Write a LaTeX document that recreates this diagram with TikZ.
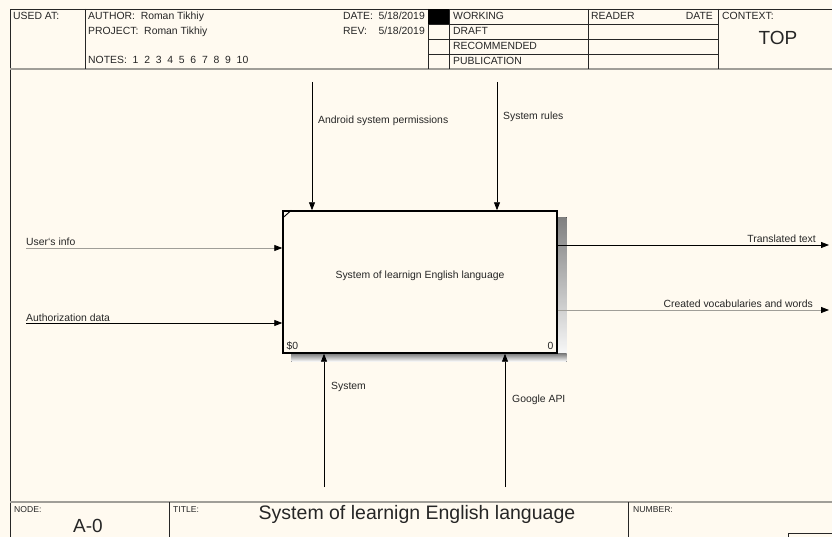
\documentclass[tikz,border=0pt]{standalone}
\usepackage{fontspec}
\setmainfont{Liberation Sans}
\usepackage{tikz}
\usetikzlibrary{ positioning, arrows.meta, calc }
\usepackage{xcolor}
\definecolor{paper}{HTML}{FFFAF0}
\definecolor{ink}{HTML}{262626}
\definecolor{rule}{HTML}{A09E98}
\definecolor{shade}{HTML}{8E8E8E}

\begin{document}
\begin{tikzpicture}[
  x=1pt, y=-1pt,
  every node/.style={font=\fontsize{10.4}{12}\selectfont, inner sep=0pt, text=ink},
  txt/.style={anchor=base west},
  rtxt/.style={anchor=base east},
  tiny/.style={anchor=base west, font=\fontsize{8.6}{10}\selectfont},
  big/.style={font=\fontsize{19}{22}\selectfont},
  func/.style={draw=black, line width=1.4pt, fill=paper,
               minimum width=274pt, minimum height=142pt},
  arc/.style={-{Triangle[length=8pt,width=6pt,black]}, draw=black, line width=0.8pt},
  arcgray/.style={arc, draw=rule},
  frm/.style={draw=ink, line width=0.8pt},
]
  % page
  \fill[paper] (0,0) rectangle (832,537);
  \useasboundingbox (0,0) rectangle (832,537);

  % header frame
  \draw[frm] (10,537) -- (10,9) -- (832,9);
  \draw[rule, line width=1.6pt] (10,69) -- (832,69);
  \foreach \xx in {85,428,449,588,718}
    \draw[frm] (\xx,9) -- (\xx,69);
  \foreach \yy in {24,39,54}
    \draw[frm] (428,\yy) -- (718,\yy);
  \fill[black] (428,9) rectangle (449,24);

  % header texts
  \node[txt] (usedat) at (13,20) {USED AT:};
  \node[txt] (author) at (88,20) {AUTHOR:\ \ Roman Tikhiy};
  \node[txt] (project) at (88,35) {PROJECT:\ \ Roman Tikhiy};
  \node[txt] (notes) at (88,64) {NOTES:\ \ 1\ \ 2\ \ 3\ \ 4\ \ 5\ \ 6\ \ 7\ \ 8\ \ 9\ \ 10};
  \node[txt] (datelbl) at (343,20) {DATE:};
  \node[rtxt] (dateval) at (425,20) {5/18/2019};
  \node[txt] (revlbl) at (343,35) {REV:};
  \node[rtxt] (revval) at (425,35) {5/18/2019};
  \node[txt] (working) at (453,20) {WORKING};
  \node[txt] (draft) at (453,35) {DRAFT};
  \node[txt] (recom) at (453,50) {RECOMMENDED};
  \node[txt] (public) at (453,65) {PUBLICATION};
  \node[txt] (reader) at (591,20) {READER};
  \node[rtxt] (rdate) at (713,20) {DATE};
  \node[txt] (context) at (722,20) {CONTEXT:};
  \node[big] (top) at (778,38) {TOP};

  % footer frame
  \draw[rule, line width=1.6pt] (10,502) -- (832,502);
  \draw[frm] (169,502) -- (169,537);
  \draw[frm] (628,502) -- (628,537);
  \draw[frm] (788,537) -- (788,533) -- (832,533);
  \node[tiny] (nodelbl) at (14,512) {NODE:};
  \node[big, anchor=base] (nodeval) at (88,532) {A-0};
  \node[tiny] (titlelbl) at (173,512) {TITLE:};
  \node[big, anchor=base, font=\fontsize{19.5}{22}\selectfont] (titleval) at (417,519) {System of learnign English language};
  \node[tiny] (numlbl) at (633,512) {NUMBER:};

  % activity box with shadow
  \node[func] (sys) at (420,282) {};
  \fill[shade] ($(sys.north east)+(0,7)$) rectangle ($(sys.south east)+(9,8)$);
  \fill[shade] ($(sys.south west)+(9,0)$) rectangle ($(sys.south east)+(9,8)$);
  \node[func] at (sys) {};
  \node (sysname) at ($(sys.center)+(0,-6)$) {System of learnign English language};
  \draw[black, line width=0.9pt] ($(sys.north west)+(0,8)$) -- ($(sys.north west)+(9,0)$);
  \node[anchor=base west] (cost) at ($(sys.south west)+(4,-4)$) {\$0};
  \node[anchor=base east] (num) at ($(sys.south east)+(-4,-4)$) {0};

  % controls
  \coordinate (perm) at (312,82);
  \coordinate (rules) at (497,82);
  \draw[arc] (perm) -- (perm |- sys.north);
  \draw[arc] (rules) -- (rules |- sys.north);
  \node[txt] (permlbl) at (318,124) {Android system permissions};
  \node[txt] (ruleslbl) at (503,120) {System rules};

  % inputs
  \coordinate (uinfo) at (26,248);
  \coordinate (auth) at (26,323);
  \draw[arcgray] (uinfo) -- (uinfo -| sys.west);
  \draw[arc] (auth) -- (auth -| sys.west);
  \node[txt] (uinfolbl) at (26,246) {User`s info};
  \node[txt] (authlbl) at (26,321) {Authorization data};

  % outputs
  \coordinate (trans) at (829,245);
  \coordinate (vocab) at (829,310);
  \draw[arc] (trans -| sys.east) -- (trans);
  \draw[arcgray] (vocab -| sys.east) -- (vocab);
  \node[rtxt] (translbl) at (816,243) {Translated text};
  \node[rtxt] (vocablbl) at (813,307) {Created vocabularies and words};

  % mechanisms
  \coordinate (system) at (324,487);
  \coordinate (gapi) at (505,487);
  \draw[arc] (system) -- (system |- sys.south);
  \draw[arc] (gapi) -- (gapi |- sys.south);
  \node[txt] (systemlbl) at (331,389) {System};
  \node[txt] (gapilbl) at (512,402) {Google API};
\end{tikzpicture}
\end{document}
